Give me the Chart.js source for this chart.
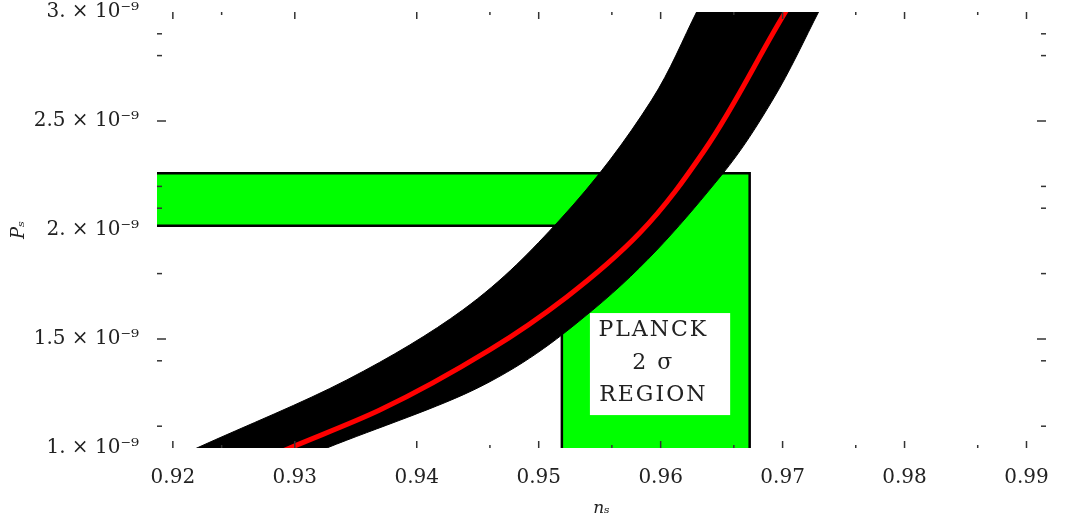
<!DOCTYPE html>
<html>
<head>
<meta charset="utf-8">
<script src="https://cdn.jsdelivr.net/npm/chart.js@4.4.1/dist/chart.umd.min.js"></script>
<style>
  html, body { margin: 0; padding: 0; background: #fff; }
  #wrap { width: 1066px; height: 522px; }
</style>
</head>
<body>
<div id="wrap"><canvas id="chart"></canvas></div>
<script>
// axes: n_s (x) and P_s (y)
const xMin = 0.9187, xMax = 0.9916;
const yMin = 1e-9, yMax = 3e-9;
const xTicks = [0.92, 0.93, 0.94, 0.95, 0.96, 0.97, 0.98, 0.99];
const xMinorTicks = [0.924, 0.946, 0.956, 0.966, 0.976, 0.986];
const yTicks = [1e-9, 1.5e-9, 2e-9, 2.5e-9, 3e-9];
const yTickLabels = ['1. × 10⁻⁹', '1.5 × 10⁻⁹', '2. × 10⁻⁹', '2.5 × 10⁻⁹', '3. × 10⁻⁹'];
const yMajorMarks = [1.5e-9, 2.5e-9];
const yMinorMarks = [1.1e-9, 1.4e-9, 1.8e-9, 2.1e-9, 2.2e-9, 2.8e-9, 2.9e-9];

// left/upper edge of the black band
const upperNs = [0.9200, 0.92197, 0.93426, 0.94377, 0.95172, 0.95926, 0.96303, 0.9634];
const upperPs = [0.95e-9, 1.0e-9, 1.312e-9, 1.633e-9, 2.046e-9, 2.596e-9, 3.009e-9, 3.05e-9];
// right/lower edge of the black band
const lowerNs = [0.9304, 0.93262, 0.94516, 0.95443, 0.96500, 0.96918, 0.97303, 0.9734];
const lowerPs = [0.95e-9, 1.0e-9, 1.280e-9, 1.633e-9, 2.252e-9, 2.596e-9, 3.009e-9, 3.05e-9];
// red central curve
const centralNs = [0.9275, 0.92959, 0.93697, 0.94598, 0.95230, 0.95828, 0.96361, 0.97033, 0.9708];
const centralPs = [0.95e-9, 1.0e-9, 1.174e-9, 1.450e-9, 1.693e-9, 1.986e-9, 2.367e-9, 3.009e-9, 3.05e-9];

// Planck 2 sigma region (L shape)
const planckNs = [0.9519, 0.9673];
const planckPs = [2.02e-9, 2.26e-9];
const labelBoxNs = [0.9542, 0.9657];
const labelBoxPs = [1.151e-9, 1.619e-9];
const labelLines = ['PLANCK', '2 σ', 'REGION'];
const labelNs = 0.9594;
const labelPs = [1.541e-9, 1.390e-9, 1.243e-9];

const pts = (xs, ys) => xs.map((v, i) => ({x: v, y: ys[i]}));

const planckShape = [
    {x: 0.915, y: planckPs[1]},
    {x: planckNs[1], y: planckPs[1]},
    {x: planckNs[1], y: 0.99e-9},
    {x: planckNs[0], y: 0.99e-9},
    {x: planckNs[0], y: planckPs[0]},
    {x: 0.915, y: planckPs[0]},
];

const frameTicks = {
    id: 'frameTicks',
    afterDatasetsDraw(chart) {
        const {ctx, chartArea: a, scales: {x, y}} = chart;
        ctx.save();

        // white box with the label
        const bx0 = x.getPixelForValue(labelBoxNs[0]), bx1 = x.getPixelForValue(labelBoxNs[1]);
        const by0 = y.getPixelForValue(labelBoxPs[1]), by1 = y.getPixelForValue(labelBoxPs[0]);
        ctx.fillStyle = '#fff';
        ctx.fillRect(bx0, by0, bx1 - bx0, by1 - by0);
        ctx.fillStyle = '#222';
        ctx.font = '22px "DejaVu Serif"';
        ctx.letterSpacing = '2px';
        ctx.textAlign = 'center';
        ctx.textBaseline = 'middle';
        labelLines.forEach((t, i) => ctx.fillText(t, x.getPixelForValue(labelNs), y.getPixelForValue(labelPs[i])));
        ctx.letterSpacing = '0px';

        // inward ticks on all four sides
        ctx.strokeStyle = '#333';
        ctx.lineWidth = 1.5;
        const mark = (x0, y0, x1, y1) => { ctx.beginPath(); ctx.moveTo(x0, y0); ctx.lineTo(x1, y1); ctx.stroke(); };
        for (const v of xTicks) {
            const px = x.getPixelForValue(v);
            mark(px, a.bottom, px, a.bottom - 7);
            mark(px, a.top, px, a.top + 7);
        }
        for (const v of xMinorTicks) {
            const px = x.getPixelForValue(v);
            mark(px, a.bottom, px, a.bottom - 3);
            mark(px, a.top, px, a.top + 3);
        }
        for (const v of yMajorMarks) {
            const py = y.getPixelForValue(v);
            mark(a.left, py, a.left + 9, py);
            mark(a.right, py, a.right - 9, py);
        }
        for (const v of yMinorMarks) {
            const py = y.getPixelForValue(v);
            mark(a.left, py, a.left + 5, py);
            mark(a.right, py, a.right - 5, py);
        }
        ctx.restore();
    }
};

const curve = {
    type: 'line',
    indexAxis: 'y',
    cubicInterpolationMode: 'monotone',
    pointRadius: 0,
    clip: 0,
};

new Chart(document.getElementById('chart'), {
    type: 'line',
    data: {
        datasets: [
            {...curve, data: pts(centralNs, centralPs), borderColor: '#ff0000', borderWidth: 5, fill: false},
            {...curve, data: pts(upperNs, upperPs), borderColor: '#000', borderWidth: 1, backgroundColor: '#000', fill: '+1'},
            {...curve, data: pts(lowerNs, lowerPs), borderColor: '#000', borderWidth: 1, fill: false},
            {type: 'line', data: planckShape, borderColor: '#000', borderWidth: 2.5, backgroundColor: '#00ff00',
             fill: 'shape', tension: 0, pointRadius: 0, clip: 0},
        ]
    },
    options: {
        responsive: true,
        maintainAspectRatio: false,
        animation: false,
        layout: {padding: {top: 12, right: 20, bottom: 0, left: 0}},
        plugins: {legend: {display: false}, tooltip: {enabled: false}},
        scales: {
            x: {
                type: 'linear', min: xMin, max: xMax,
                afterBuildTicks: s => { s.ticks = xTicks.map(v => ({value: v})); },
                afterFit: s => { s.height = 74; s.paddingLeft = 0; s.paddingRight = 0; },
                grid: {display: false},
                border: {display: false},
                ticks: {padding: 10, color: '#222', font: {family: 'DejaVu Serif', size: 20},
                        callback: v => v.toFixed(2), maxRotation: 0},
                title: {display: true, text: 'nₛ', color: '#222', padding: {top: 0, bottom: 3},
                        font: {family: 'DejaVu Serif', size: 17, style: 'italic'}}
            },
            y: {
                type: 'linear', min: yMin, max: yMax,
                afterBuildTicks: s => { s.ticks = yTicks.map(v => ({value: v})); },
                afterFit: s => { s.width = 157; s.paddingTop = 0; s.paddingBottom = 0; },
                grid: {display: false},
                border: {display: false},
                ticks: {padding: 10, color: '#222', font: {family: 'DejaVu Serif', size: 20},
                        callback: v => yTickLabels[yTicks.findIndex(t => Math.abs(t - v) < 1e-12)]},
                title: {display: true, text: 'Pₛ', color: '#222', padding: {top: 9, bottom: 0},
                        font: {family: 'DejaVu Serif', size: 18, style: 'italic'}}
            }
        }
    },
    plugins: [frameTicks]
});
</script>
</body>
</html>
